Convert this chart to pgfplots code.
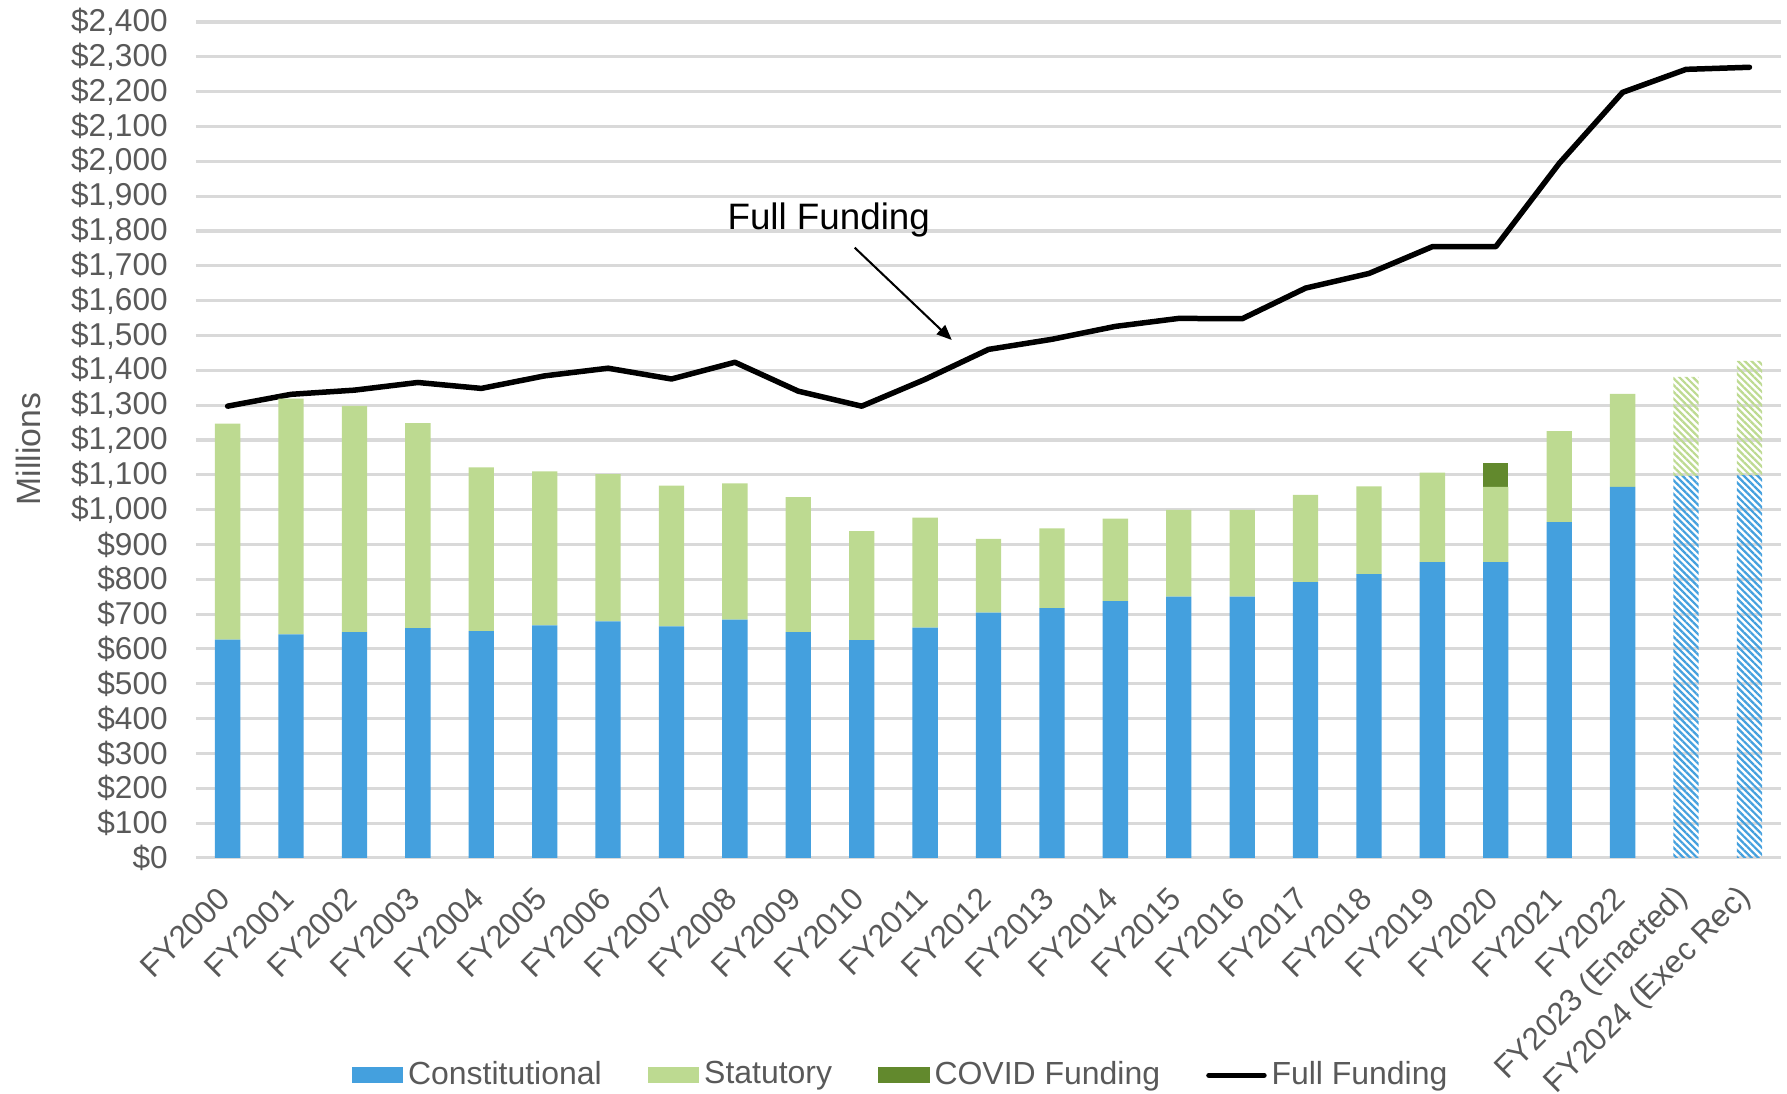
\documentclass[border=0pt]{standalone}
\usepackage{fontspec}
\setmainfont{Liberation Sans}
\usepackage{pgfplots}
\usepackage{pgfplotstable}
\pgfplotsset{compat=1.18}
\usetikzlibrary{patterns.meta, arrows.meta}
\definecolor{cblue}{RGB}{68,160,222}
\definecolor{cgreen}{RGB}{189,218,145}
\definecolor{cdark}{RGB}{98,137,45}
\definecolor{tgray}{RGB}{89,89,89}
\definecolor{gridgray}{RGB}{217,217,217}

\pgfplotstableread{
x const stat covid hconst hstat full
0  627 620 0  0    0   1297
1  642 677 0  0    0   1331
2  648 650 0  0    0   1343
3  660 588 0  0    0   1365
4  651 470 0  0    0   1348
5  668 442 0  0    0   1384
6  679 423 0  0    0   1406
7  665 404 0  0    0   1375
8  684 391 0  0    0   1423
9  648 388 0  0    0   1340
10 625 313 0  0    0   1297
11 661 316 0  0    0   1374
12 704 212 0  0    0   1460
13 717 229 0  0    0   1489
14 737 237 0  0    0   1526
15 750 249 0  0    0   1549
16 750 249 0  0    0   1548
17 792 250 0  0    0   1636
18 815 252 0  0    0   1678
19 849 257 0  0    0   1755
20 849 216 68 0    0   1755
21 964 261 0  0    0   1994
22 1065 267 0 0    0   2198
23 0   0   0  1097 284 2264
24 0   0   0  1099 328 2270
}\data

\begin{document}
\begin{tikzpicture}
\begin{axis}[
  at={(0,0)}, anchor=south west,
  scale only axis, width=461.2pt, height=243.2pt,
  ybar stacked, bar width=7.37pt,
  xmin=-0.5, xmax=24.5, ymin=0, ymax=2400,
  xtick={0,...,24},
  xticklabels={FY2000,FY2001,FY2002,FY2003,FY2004,FY2005,FY2006,FY2007,FY2008,FY2009,FY2010,FY2011,FY2012,FY2013,FY2014,FY2015,FY2016,FY2017,FY2018,FY2019,FY2020,FY2021,FY2022,FY2023 (Enacted),FY2024 (Exec Rec)},
  ytick={0,100,...,2400},
  ymajorgrids, grid style={gridgray, line width=0.9pt},
  axis line style={draw=none}, tick style={draw=none},
  tick label style={font=\fontsize{9.2}{11}\selectfont, text=tgray},
  yticklabel style={anchor=east, inner sep=0pt, xshift=-8pt},
  xticklabel style={yshift=-10.2pt, xshift=-0.8pt, rotate=45, anchor=east, inner sep=0pt},
  yticklabel={\$\pgfmathprintnumber{\tick}},
  /pgf/number format/fixed, /pgf/number format/precision=0,
  /pgf/number format/1000 sep={,}, /pgf/number format/assume math mode=true,
  legend style={at={(0.4454,-0.26)}, anchor=center, draw=none, fill=none,
    legend columns=4, font=\fontsize{9.3}{11}\selectfont, text=tgray,
    /tikz/every even column/.append style={column sep=12pt},
    nodes={inner xsep=1.4pt, inner ysep=0pt}},
  clip=false,
]
\addplot[fill=cblue, draw=none, legend image code/.code={\fill[cblue] (0pt,-2.3pt) rectangle (15pt,2.3pt);}] table[x=x,y=const]{\data};
\addplot[fill=cgreen, draw=none, legend image code/.code={\fill[cgreen] (0pt,-2.3pt) rectangle (15pt,2.3pt);}] table[x=x,y=stat]{\data};
\addplot[fill=cdark, draw=none, legend image code/.code={\fill[cdark] (0pt,-2.3pt) rectangle (15pt,2.3pt);}] table[x=x,y=covid]{\data};
\addplot[black, line width=1.6pt, line join=round, line cap=round, sharp plot, stack plots=false, mark=none,
  legend image code/.code={\draw[black, line width=1.6pt] (0pt,0pt) -- (16pt,0pt);}] table[x=x,y=full]{\data};
\addplot[draw=none, pattern={Lines[angle=-45,distance=1.4pt,line width=0.65pt]}, pattern color=cblue] table[x=x,y=hconst]{\data};
\addplot[draw=none, pattern={Lines[angle=-45,distance=1.4pt,line width=0.65pt]}, pattern color=cgreen] table[x=x,y=hstat]{\data};
\legend{Constitutional,Statutory,COVID Funding,Full Funding}
\node[anchor=base, font=\fontsize{10.7}{12}\selectfont, text=black, inner sep=0pt] at (axis cs:9.48,1805) {Full Funding};
\draw[-{Triangle[length=4.4pt,width=3.6pt]}, line width=0.6pt, black] (axis cs:9.89,1752) -- (axis cs:11.42,1487);
\end{axis}
\node[rotate=90, font=\fontsize{9.8}{12}\selectfont, text=tgray] at (-48.7pt,118.9pt) {Millions};
\pgfresetboundingbox
\path[use as bounding box] (-57pt,-68.5pt) rectangle (462.9pt,249.6pt);
\end{tikzpicture}
\end{document}
